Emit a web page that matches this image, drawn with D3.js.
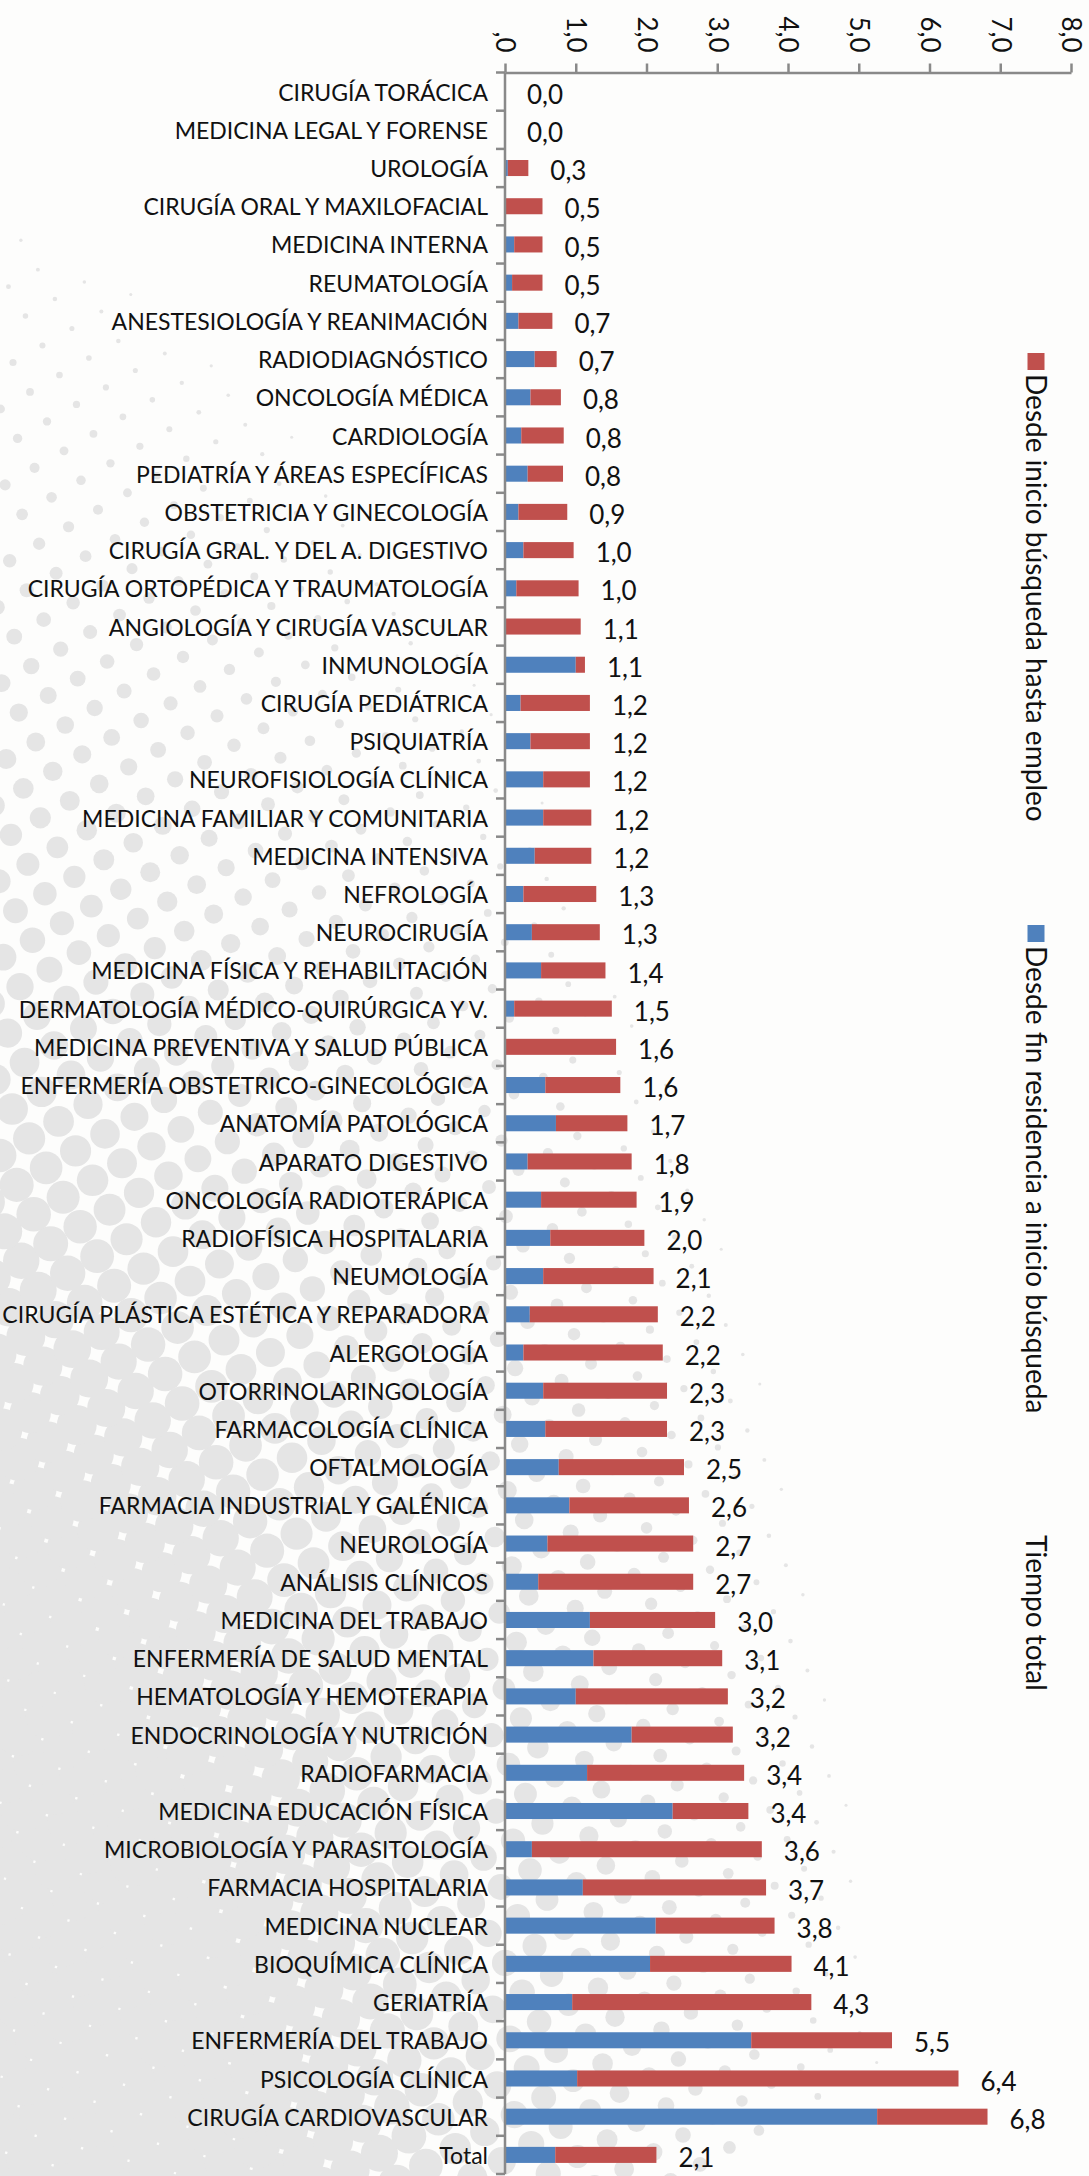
<!DOCTYPE html>
<html>
<head>
<meta charset="utf-8">
<script src="https://cdn.jsdelivr.net/npm/d3@7"></script>
<style>
  html, body { margin: 0; padding: 0; background: #fdfdfc; }
  svg { display: block; font-family: Lato, "Open Sans", sans-serif; }
</style>
</head>
<body>
<svg id="chart"></svg>
<script>
const BLUE = '#4f81bd';
const RED = '#c0504d';
const AXIS_GRAY = '#898989';

// Categories, top to bottom
const categories = [
    "CIRUGÍA TORÁCICA", "MEDICINA LEGAL Y FORENSE", "UROLOGÍA", "CIRUGÍA ORAL Y MAXILOFACIAL",
    "MEDICINA INTERNA", "REUMATOLOGÍA", "ANESTESIOLOGÍA Y REANIMACIÓN", "RADIODIAGNÓSTICO",
    "ONCOLOGÍA MÉDICA", "CARDIOLOGÍA", "PEDIATRÍA Y ÁREAS ESPECÍFICAS", "OBSTETRICIA Y GINECOLOGÍA",
    "CIRUGÍA GRAL. Y DEL A. DIGESTIVO", "CIRUGÍA ORTOPÉDICA Y TRAUMATOLOGÍA", "ANGIOLOGÍA Y CIRUGÍA VASCULAR",
    "INMUNOLOGÍA", "CIRUGÍA PEDIÁTRICA", "PSIQUIATRÍA", "NEUROFISIOLOGÍA CLÍNICA",
    "MEDICINA FAMILIAR Y COMUNITARIA", "MEDICINA INTENSIVA", "NEFROLOGÍA", "NEUROCIRUGÍA",
    "MEDICINA FÍSICA Y REHABILITACIÓN", "DERMATOLOGÍA MÉDICO-QUIRÚRGICA Y V.",
    "MEDICINA PREVENTIVA Y SALUD PÚBLICA", "ENFERMERÍA OBSTETRICO-GINECOLÓGICA", "ANATOMÍA PATOLÓGICA",
    "APARATO DIGESTIVO", "ONCOLOGÍA RADIOTERÁPICA", "RADIOFÍSICA HOSPITALARIA", "NEUMOLOGÍA",
    "CIRUGÍA PLÁSTICA ESTÉTICA Y REPARADORA", "ALERGOLOGÍA", "OTORRINOLARINGOLOGÍA", "FARMACOLOGÍA CLÍNICA",
    "OFTALMOLOGÍA", "FARMACIA INDUSTRIAL Y GALÉNICA", "NEUROLOGÍA", "ANÁLISIS CLÍNICOS",
    "MEDICINA DEL TRABAJO", "ENFERMERÍA DE SALUD MENTAL", "HEMATOLOGÍA Y HEMOTERAPIA",
    "ENDOCRINOLOGÍA Y NUTRICIÓN", "RADIOFARMACIA", "MEDICINA EDUCACIÓN FÍSICA",
    "MICROBIOLOGÍA Y PARASITOLOGÍA", "FARMACIA HOSPITALARIA", "MEDICINA NUCLEAR", "BIOQUÍMICA CLÍNICA",
    "GERIATRÍA", "ENFERMERÍA DEL TRABAJO", "PSICOLOGÍA CLÍNICA", "CIRUGÍA CARDIOVASCULAR", "Total"
];

// Desde fin residencia a inicio búsqueda (years)
const finResidencia = [
    0.00, 0.00, 0.04, 0.00, 0.13, 0.10, 0.19, 0.42, 0.36, 0.23,
    0.32, 0.19, 0.26, 0.16, 0.00, 1.00, 0.22, 0.36, 0.54, 0.54,
    0.42, 0.26, 0.38, 0.51, 0.13, 0.00, 0.57, 0.72, 0.32, 0.51,
    0.64, 0.54, 0.35, 0.26, 0.54, 0.57, 0.76, 0.91, 0.60, 0.47,
    1.20, 1.25, 1.00, 1.79, 1.16, 2.37, 0.38, 1.10, 2.13, 2.05,
    0.95, 3.48, 1.02, 5.26, 0.71
];

// Desde inicio búsqueda hasta empleo (years)
const inicioBusqueda = [
    0.00, 0.00, 0.29, 0.53, 0.40, 0.43, 0.48, 0.31, 0.43, 0.60,
    0.50, 0.69, 0.71, 0.88, 1.07, 0.13, 0.98, 0.84, 0.66, 0.68,
    0.80, 1.03, 0.96, 0.91, 1.38, 1.57, 1.06, 1.01, 1.47, 1.35,
    1.33, 1.56, 1.81, 1.97, 1.75, 1.72, 1.77, 1.69, 2.06, 2.19,
    1.77, 1.82, 2.15, 1.43, 2.22, 1.07, 3.25, 2.59, 1.68, 2.00,
    3.38, 1.99, 5.39, 1.56, 1.43
];

// Tiempo total (label values)
const tiempoTotal = [
    0.0, 0.0, 0.3, 0.5, 0.5, 0.5, 0.7, 0.7, 0.8, 0.8,
    0.8, 0.9, 1.0, 1.0, 1.1, 1.1, 1.2, 1.2, 1.2, 1.2,
    1.2, 1.3, 1.3, 1.4, 1.5, 1.6, 1.6, 1.7, 1.8, 1.9,
    2.0, 2.1, 2.2, 2.2, 2.3, 2.3, 2.5, 2.6, 2.7, 2.7,
    3.0, 3.1, 3.2, 3.2, 3.4, 3.4, 3.6, 3.7, 3.8, 4.1,
    4.3, 5.5, 6.4, 6.8, 2.1
];

const xTicks = [0, 1, 2, 3, 4, 5, 6, 7, 8];
const xTickLabels = [",0", "1,0", "2,0", "3,0", "4,0", "5,0", "6,0", "7,0", "8,0"];

const legendNames = ["Desde inicio búsqueda hasta empleo", "Desde fin residencia a inicio búsqueda", "Tiempo total"];

const width = 1089;
const height = 2176;

const svg = d3.select("#chart")
    .attr("width", width)
    .attr("height", height)
    .attr("viewBox", [0, 0, width, height]);

// Decorative halftone background (bottom-left)
const deco = svg.append("g").attr("fill", "#e5e5e5");
const spacing = 34;
const ang = Math.PI / 6;
for (let i = -10; i < 90; i++) {
    for (let j = -10; j < 90; j++) {
        const u = i * spacing, v = j * spacing;
        const px = u * Math.cos(ang) - v * Math.sin(ang);
        const py = height - (u * Math.sin(ang) + v * Math.cos(ang));
        if (px < -30 || px > 900 || py < -30 || py > height + 30) continue;
        const dx = (px + 250) * 2, dy = 2450 - py;
        const d = Math.sqrt(dx * dx + dy * dy);
        const t = Math.max(0, Math.min(1, (2400 - d) / 1350));
        const r = 23 * Math.pow(t, 1.1);
        if (r < 1.5) continue;
        deco.append("circle").attr("cx", px).attr("cy", py).attr("r", r);
    }
}

const x = d3.scaleLinear().domain([0, 8]).range([505, 1071]);
const y = d3.scaleBand().domain(categories).range([72.5, 2174]).paddingInner(0.58).paddingOuter(0.29);

const rows = categories.map((c, i) => ({
    name: c, a: finResidencia[i], b: inicioBusqueda[i], total: tiempoTotal[i]
}));

// Bars
const bars = svg.append("g");
bars.selectAll("rect.a")
    .data(rows)
    .join("rect")
    .attr("class", "a")
    .attr("x", x(0))
    .attr("y", d => y(d.name))
    .attr("width", d => x(d.a) - x(0))
    .attr("height", y.bandwidth())
    .attr("fill", BLUE);

bars.selectAll("rect.b")
    .data(rows)
    .join("rect")
    .attr("class", "b")
    .attr("x", d => x(d.a))
    .attr("y", d => y(d.name))
    .attr("width", d => x(d.a + d.b) - x(d.a))
    .attr("height", y.bandwidth())
    .attr("fill", RED);

// Category axis: line and ticks between categories
const yTop = y.range()[0], yBot = y.range()[1];
const cat = svg.append("g").attr("stroke", AXIS_GRAY).attr("stroke-width", 2.5);
cat.selectAll("line.tick")
    .data(d3.range(categories.length + 1))
    .join("line")
    .attr("x1", x(0) - 9).attr("x2", x(0))
    .attr("y1", i => yTop + i * y.step())
    .attr("y2", i => yTop + i * y.step());
cat.append("line")
    .attr("x1", x(0)).attr("x2", x(0))
    .attr("y1", yTop).attr("y2", yBot);

// Category labels
svg.append("g")
    .selectAll("text")
    .data(rows)
    .join("text")
    .attr("x", x(0) - 17)
    .attr("y", d => y(d.name) + y.bandwidth() / 2 + 1)
    .attr("dy", "0.35em")
    .attr("text-anchor", "end")
    .attr("font-size", 23)
    .attr("fill", "#111")
    .text(d => d.name);

// Value axis on top
const xAxis = svg.append("g")
    .attr("transform", `translate(0,${yTop})`)
    .call(d3.axisTop(x)
        .tickValues(xTicks)
        .tickSize(9)
        .tickSizeOuter(0)
        .tickPadding(0)
        .tickFormat((d, i) => xTickLabels[i]));
xAxis.select(".domain").attr("stroke", AXIS_GRAY).attr("stroke-width", 2.5);
xAxis.selectAll(".tick line").attr("stroke", AXIS_GRAY).attr("stroke-width", 2.5);
xAxis.selectAll(".tick text")
    .attr("font-family", "Lato, sans-serif")
    .attr("font-size", 26)
    .attr("fill", "#111")
    .attr("text-anchor", "end")
    .attr("transform", "translate(0,-20) rotate(90)")
    .attr("x", 0)
    .attr("y", 0)
    .attr("dy", "0.35em");

// Tiempo total labels
const fmt = v => d3.format(".1f")(v).replace(".", ",");
svg.append("g")
    .selectAll("text")
    .data(rows)
    .join("text")
    .attr("x", d => x(d.a + d.b) + 22)
    .attr("y", d => y(d.name) + y.bandwidth() / 2 + 3)
    .attr("dy", "0.35em")
    .attr("font-size", 26)
    .attr("fill", "#111")
    .text(d => fmt(d.total));

// Legend, rotated to read top to bottom
const legendColors = [RED, BLUE, null];
const legendY = [353, 925, 1514];
const legend = svg.append("g");
legendNames.forEach((name, i) => {
    const g = legend.append("g").attr("transform", `translate(1036,${legendY[i]}) rotate(90)`);
    if (legendColors[i]) {
        g.append("rect").attr("x", 0).attr("y", -8.5).attr("width", 17).attr("height", 17)
            .attr("fill", legendColors[i]);
    }
    g.append("text")
        .attr("x", 21)
        .attr("dy", "0.35em")
        .attr("font-size", 28)
        .attr("fill", "#111")
        .text(name);
});
</script>
</body>
</html>
